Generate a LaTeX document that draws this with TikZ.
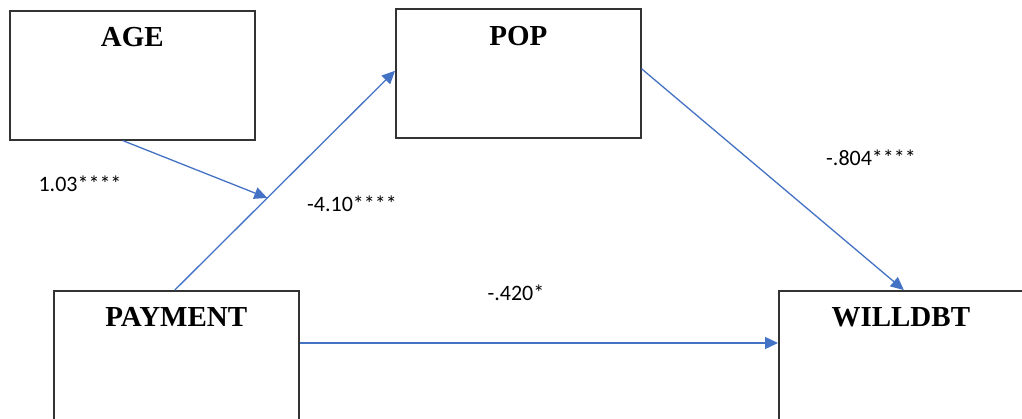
\documentclass[tikz,border=0pt]{standalone}
\usepackage{fontspec}
\setmainfont{Liberation Serif}
\newfontfamily\labelfont{Carlito}
\usetikzlibrary{arrows.meta,calc}

\definecolor{pathblue}{HTML}{4472C4}
\definecolor{boxline}{HTML}{333333}

\tikzset{
  varbox/.style={draw=boxline, line width=1.6pt, fill=white, inner sep=0pt,
                 minimum width=245pt, minimum height=129pt, anchor=north west},
  vartitle/.style={font=\fontsize{29}{29}\selectfont\bfseries, inner sep=0pt},
  coef/.style={font=\labelfont\fontsize{22}{22}\selectfont, inner sep=0pt},
  pathline/.style={draw=pathblue, line width=1.3pt},
  patharrow/.style={pathline, -{Triangle[length=13pt,width=12pt]}}
}

\begin{document}
\begin{tikzpicture}[x=1pt, y=-1pt]
  \clip (0,0) rectangle (1022,418);
  \fill[white] (0,0) rectangle (1022,418);

  % variable boxes
  \node[varbox] (age) at (9,10) {};
  \node[varbox] (pop) at (395,8) {};
  \node[varbox, minimum height=150pt] (pay) at (53,290) {};
  \node[varbox, minimum width=244pt, minimum height=150pt] (will) at (778,290) {};

  % box titles
  \node[vartitle] (ageT)  at ($(age.north)+(0,27)$)  {AGE};
  \node[vartitle] (popT)  at ($(pop.north)+(0,28)$)  {POP};
  \node[vartitle] (payT)  at ($(pay.north)+(0,27)$)  {PAYMENT};
  \node[vartitle] (willT) at ($(will.north)+(0,27)$) {WILLDBT};

  % paths
  \coordinate (payTop) at ($(pay.north)+(-1.5,0)$);
  \coordinate (popIn) at ($(pop.west)+(0,-2.5)$);
  \draw[patharrow] (payTop) -- (popIn);
  \coordinate (mod) at ($(payTop)!0.42!(popIn)$);
  \coordinate (ageOut) at ($(age.south)+(-9.5,0)$);
  \draw[patharrow] (ageOut) -- (mod);
  \coordinate (popOut) at ($(pop.east)+(0,-4.5)$);
  \coordinate (willTop) at ($(will.north)+(3,0)$);
  \draw[patharrow] (popOut) -- (willTop);
  \coordinate (payOut) at ($(pay.north east)+(0,53)$);
  \draw[patharrow] (payOut) -- (will.west |- payOut);

  % coefficients
  \node[coef] (cAge)  at (80,184)  {1.03****};
  \node[coef] (cPay)  at (352,204) {-4.10****};
  \node[coef] (cPop)  at (871,158) {-.804****};
  \node[coef] (cDir)  at (516,293) {-.420*};
\end{tikzpicture}
\end{document}
